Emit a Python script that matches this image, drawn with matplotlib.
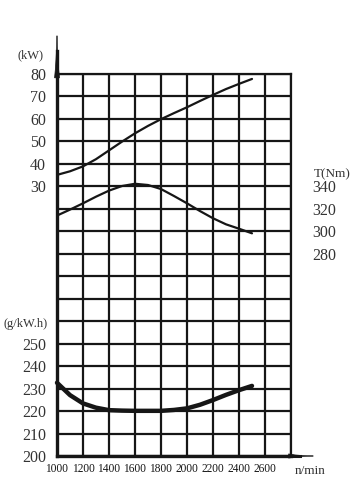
import matplotlib
matplotlib.use('Agg')
import matplotlib.pyplot as plt
import numpy as np

# engine speed (n/min)
rpm = [1000, 1100, 1200, 1300, 1400, 1500, 1600, 1700, 1800, 1900,
       2000, 2100, 2200, 2300, 2400, 2500]
# power (kW)
power = [35.1, 36.7, 38.9, 42.1, 46.0, 49.9, 53.6, 56.9, 59.9, 62.6,
         65.2, 68.0, 70.7, 73.3, 75.6, 77.8]
# torque T (Nm)
torque = [314.0, 319.3, 324.9, 330.8, 336.2, 340.3, 342.3, 341.2, 337.6, 331.4,
          324.9, 318.0, 311.6, 306.2, 302.3, 298.2]
# specific fuel consumption (g/kW.h)
fuel = [232.6, 227.1, 223.4, 221.5, 220.4, 220.2, 220.1, 220.1, 220.1, 220.5,
        221.2, 222.8, 224.9, 227.2, 229.3, 231.2]

x_ticks = [1000, 1200, 1400, 1600, 1800, 2000, 2200, 2400, 2600, 2800]
x_labels = ['1000', '1200', '1400', '1600', '1800', '2000', '2200', '2400', '2600', '']
power_ticks = [30, 40, 50, 60, 70, 80]
torque_ticks = [280, 300, 320, 340]
fuel_ticks = [200, 210, 220, 230, 240, 250]

ink = '#161616'
plt.rcParams['font.family'] = ['Liberation Serif', 'DejaVu Serif']

fig = plt.figure(figsize=(3.62, 4.91), dpi=100)
ax = fig.add_axes([57/362, 1-456/491, 234/362, 382/491])

# main axis: fuel consumption, 17 rows of 10 g/kW.h
ax.set_xlim(1000, 2800)
ax.set_ylim(200, 370)
ax.set_xticks(x_ticks)
ax.set_xticklabels(x_labels)
ax.set_yticks(np.arange(200, 371, 10))
ax.set_yticklabels([str(v) if v in fuel_ticks else '' for v in range(200, 371, 10)])
ax.grid(True, color=ink, lw=1.6)
ax.set_axisbelow(True)
ax.tick_params(length=0, colors=ink)
ax.tick_params(axis='y', labelsize=11.5, pad=8, labelcolor='#333333')
ax.tick_params(axis='x', labelsize=8.3, pad=5)
for s in ['top', 'right']:
    ax.spines[s].set_linewidth(1.6)
    ax.spines[s].set_color(ink)
for s in ['left', 'bottom']:
    ax.spines[s].set_linewidth(2.4)
    ax.spines[s].set_color(ink)

# power axis shares the grid: 80 kW at the top line
ax_p = ax.twinx()
ax_p.set_ylim(-90, 80)
ax_p.yaxis.tick_left()
ax_p.set_yticks(power_ticks)
ax_p.tick_params(length=0, labelsize=11.5, pad=8, colors='#333333')
for s in ax_p.spines.values():
    s.set_visible(False)

# torque axis: 340 Nm on the 12th line
ax_t = ax.twinx()
ax_t.set_ylim(100, 440)
ax_t.set_yticks(torque_ticks)
ax_t.tick_params(length=0, labelsize=11.5, pad=15, colors='#333333')
for s in ax_t.spines.values():
    s.set_visible(False)

ax_p.plot(rpm, power, color=ink, lw=1.6, solid_capstyle='round', solid_joinstyle='round')
ax_t.plot(rpm, torque, color=ink, lw=1.6, solid_capstyle='round', solid_joinstyle='round')
ax.plot(rpm, fuel, color=ink, lw=3.2, solid_capstyle='round', solid_joinstyle='round',
        clip_on=False)

# axis arrows (thin tapered tips)
ax.annotate('', xy=(0, 1.1), xytext=(0, 0.99), xycoords='axes fraction',
            arrowprops=dict(arrowstyle='wedge,tail_width=0.35,shrink_factor=0.3',
                            color=ink, lw=0.5, shrinkA=0, shrinkB=0))
ax.plot([0, 0], [1.0, 1.06], transform=ax.transAxes, color=ink, lw=2.4, clip_on=False)
ax.annotate('', xy=(1.095, 0), xytext=(0.99, 0), xycoords='axes fraction',
            arrowprops=dict(arrowstyle='wedge,tail_width=0.3,shrink_factor=0.2',
                            color=ink, lw=0.5, shrinkA=0, shrinkB=0))
ax.plot([1.0, 1.04], [0, 0], transform=ax.transAxes, color=ink, lw=2.2, clip_on=False)

# unit labels
fig.text(31/362, 1-55/491, '(kW)', ha='center', va='center', fontsize=9, color='#333333')
fig.text(26/362, 1-324/491, '(g/kW.h)', ha='center', va='center', fontsize=9, color='#333333')
fig.text(332/362, 1-174/491, 'T(Nm)', ha='center', va='center', fontsize=9.5, color='#333333')
fig.text(310/362, 1-471/491, 'n/min', ha='center', va='center', fontsize=9.5, color='#333333')

fig.savefig('out.png', dpi=100, facecolor='white')
